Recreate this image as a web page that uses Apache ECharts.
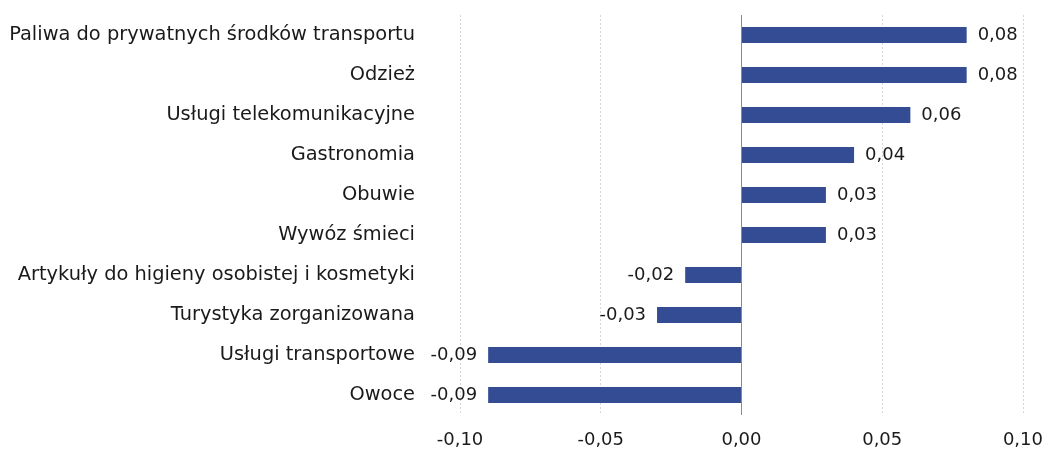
<!DOCTYPE html>
<html>
<head>
<meta charset="utf-8">
<script src="https://cdn.jsdelivr.net/npm/echarts@6/dist/echarts.min.js"></script>
<style>
html,body{margin:0;padding:0;background:#fff;}
#chart{width:1046px;height:450px;}
</style>
</head>
<body>
<div id="chart"></div>
<script>
const categories = [
  "Paliwa do prywatnych środków transportu",
  "Odzież",
  "Usługi telekomunikacyjne",
  "Gastronomia",
  "Obuwie",
  "Wywóz śmieci",
  "Artykuły do higieny osobistej i kosmetyki",
  "Turystyka zorganizowana",
  "Usługi transportowe",
  "Owoce"
];
const values = [0.08, 0.08, 0.06, 0.04, 0.03, 0.03, -0.02, -0.03, -0.09, -0.09];
const xTicks = [-0.10, -0.05, 0.00, 0.05, 0.10];

const FONT = "DejaVu Sans";
const TXT = "#1a1a1a";
const fmt = v => v.toFixed(2).replace('.', ',');

const chart = echarts.init(document.getElementById('chart'), null, {renderer: 'canvas'});
chart.setOption({
  animation: false,
  grid: {left: 460, right: 20, top: 15, bottom: 35, containLabel: false},
  xAxis: {
    type: 'value',
    min: xTicks[0],
    max: xTicks[xTicks.length - 1],
    interval: 0.05,
    axisLine: {show: false},
    axisTick: {show: false},
    axisLabel: {
      formatter: v => fmt(v),
      color: TXT, fontFamily: FONT, fontSize: 18, margin: 16
    },
    splitLine: {show: true, lineStyle: {color: '#d6d6d6', type: [2, 2], width: 1}}
  },
  yAxis: {
    type: 'category',
    data: categories,
    inverse: true,
    axisLine: {show: false},
    axisTick: {show: false},
    splitLine: {show: false},
    axisLabel: {color: TXT, fontFamily: FONT, fontSize: 19.4, margin: 45}
  },
  series: [{
    type: 'bar',
    barWidth: 16,
    itemStyle: {color: '#344c93'},
    data: values.map(v => ({
      value: v,
      label: {position: v < 0 ? 'left' : 'right'}
    })),
    label: {
      show: true,
      formatter: p => fmt(p.value),
      color: TXT, fontFamily: FONT, fontSize: 18, distance: 11
    },
    markLine: {
      silent: true,
      symbol: 'none',
      label: {show: false},
      lineStyle: {color: '#8c8c8c', type: 'solid', width: 1},
      data: [{xAxis: 0}]
    }
  }]
});
</script>
</body>
</html>
